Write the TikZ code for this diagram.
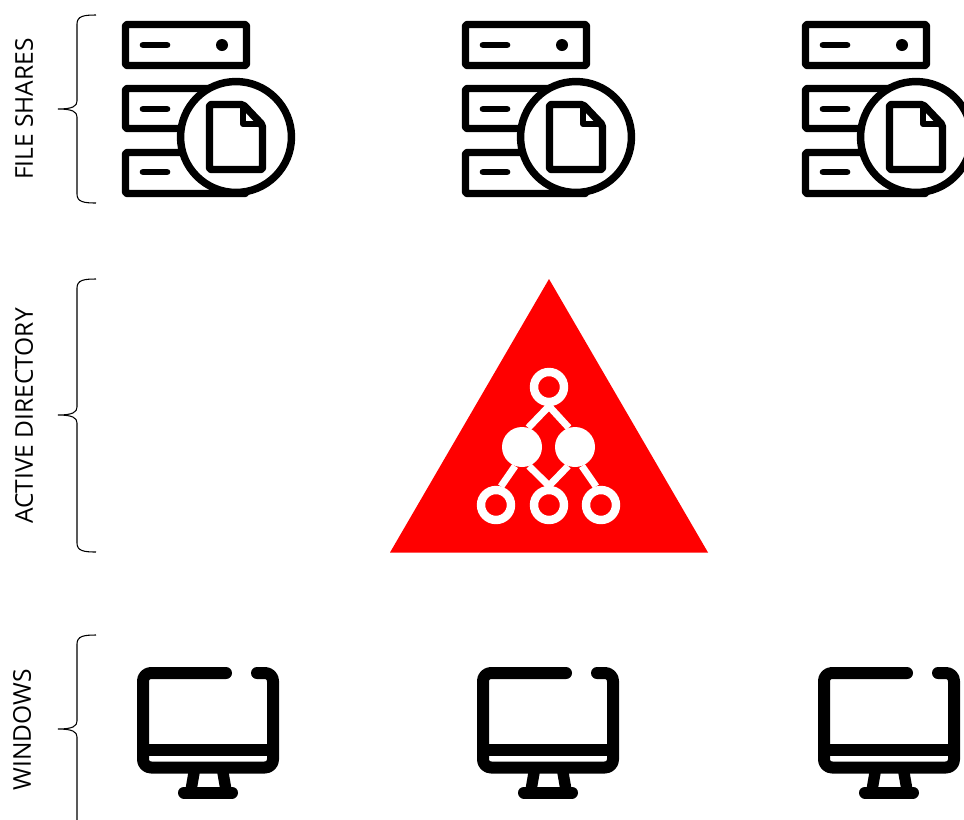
\documentclass[tikz,border=0pt]{standalone}
\usepackage{fontspec}
\setmainfont{Open Sans}
\usetikzlibrary{positioning}

\begin{document}
\begin{tikzpicture}[
    x=0.75pt, y=-0.75pt,
    layer_label/.style={rotate=90, font=\fontsize{18.4}{20}\selectfont, text=black, inner sep=0pt},
    brace_line/.style={draw=black, line width=0.8pt},
    icon_line/.style={draw=black, line width=5.6pt, rounded corners=1.5pt, line join=round},
    bar_line/.style={draw=black, line width=5pt, line cap=round},
    screen_line/.style={draw=black, line width=9pt, line cap=round, line join=round},
    ring_node/.style={circle, draw=white, line width=6.3pt, inner sep=0pt, minimum size=22.5pt},
    full_node/.style={circle, fill=white, inner sep=0pt, minimum size=30pt},
    tree_line/.style={draw=white, line width=5.25pt},
    pics/serverstack/.style={code={
        \draw[icon_line] (125.5,24.5) rectangle (246.5,65.5);
        \draw[icon_line] (125.5,88.5) rectangle (246.5,128.5);
        \draw[icon_line] (125.5,152.5) rectangle (246.5,193.5);
        \draw[bar_line] (143,45) -- (167,45);
        \draw[bar_line] (143,109) -- (167,109);
        \draw[bar_line] (143,172) -- (167,172);
        \fill[black] (222,45) circle (4.5pt);
        % Document badge
        \draw[draw=black, fill=white, line width=5.6pt] (236,137) circle (41.6pt);
        \draw[icon_line] (209.5,104.5) -- (243,104.5) -- (262.5,125) -- (262.5,169.5) -- (209.5,169.5) -- cycle;
        \draw[draw=black, line width=4.5pt, line join=round] (243,104.5) -- (243,124) -- (262.5,124);
    }},
    pics/desktop/.style={code={
        \draw[screen_line, rounded corners=6pt] (226,673) -- (143,673) -- (143,767.5) -- (273,767.5) -- (273,673) -- (257,673);
        \draw[screen_line, line cap=butt] (143,750) -- (273,750);
        % Stand
        \draw[draw=black, line width=8.5pt] (194.5,770) -- (191,790);
        \draw[draw=black, line width=8.5pt] (222.5,770) -- (226,790);
        \draw[screen_line] (184,792.5) -- (232,792.5);
    }}
]

\useasboundingbox (0,0) rectangle (964,819);
\clip (0,0) rectangle (964,819);

% Layer labels
\node[layer_label] (shares_label) at (24,109) {FILE SHARES};
\node[layer_label] (directory_label) at (24,416) {ACTIVE DIRECTORY};
\node[layer_label] (windows_label) at (22,730) {WINDOWS};

% Braces
\draw[brace_line] (96,15) .. controls (84,15) and (77,16) .. (77,24) -- (77,101) .. controls (77,106) and (73,109) .. (58,109) .. controls (73,109) and (77,112) .. (77,117) -- (77,194) .. controls (77,202) and (84,203) .. (96,203);
\draw[brace_line] (96,279) .. controls (84,279) and (77,280) .. (77,288) -- (77,407) .. controls (77,412) and (73,415) .. (58,415) .. controls (73,415) and (77,418) .. (77,423) -- (77,543) .. controls (77,551) and (84,552) .. (96,552);
\draw[brace_line] (96,635) .. controls (84,635) and (77,636) .. (77,644) -- (77,721) .. controls (77,726) and (73,729) .. (58,729) .. controls (73,729) and (77,732) .. (77,737) -- (77,825);

% File shares
\pic (share_a) at (0,0) {serverstack};
\pic (share_b) at (340,0) {serverstack};
\pic (share_c) at (680,0) {serverstack};

% Active directory
\fill[red] (549,279) -- (708,552.5) -- (390,552.5) -- cycle;
\node[ring_node] (ad_top) at (549,387) {};
\node[full_node] (ad_left) at (522,447) {};
\node[full_node] (ad_right) at (575,447) {};
\node[ring_node] (ad_low_a) at (496,505) {};
\node[ring_node] (ad_low_b) at (549,505) {};
\node[ring_node] (ad_low_c) at (601,505) {};
\draw[tree_line] (ad_top.south) -- (ad_left.72);
\draw[tree_line] (ad_top.south) -- (ad_right.108);
\draw[tree_line] (ad_left.250) -- (ad_low_a.75);
\draw[tree_line] (ad_left.290) -- (ad_low_b.north);
\draw[tree_line] (ad_right.250) -- (ad_low_b.north);
\draw[tree_line] (ad_right.290) -- (ad_low_c.105);

% Windows clients
\pic (client_a) at (0,0) {desktop};
\pic (client_b) at (340,0) {desktop};
\pic (client_c) at (681,0) {desktop};

\end{tikzpicture}
\end{document}
